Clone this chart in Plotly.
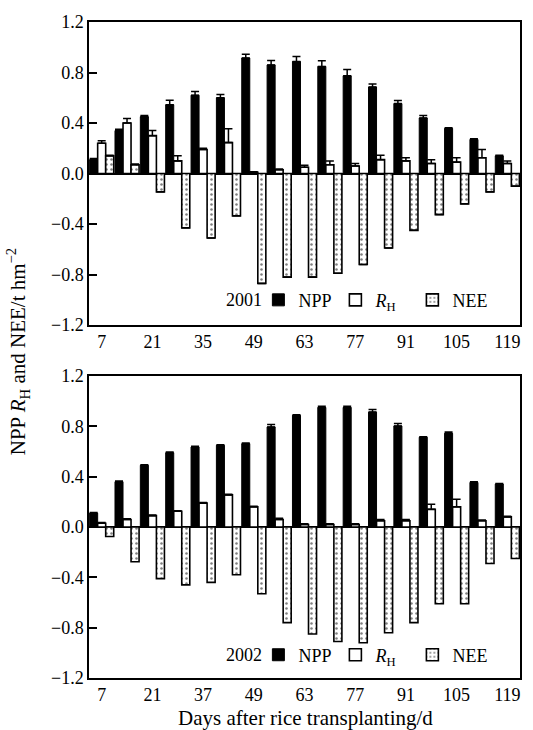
import plotly.graph_objects as go

days = [7, 14, 21, 28, 35, 42, 49, 56, 63, 70, 77, 84, 91, 98, 105, 112, 119]
tick_vals = [7, 21, 35, 49, 63, 77, 91, 105, 119]
tick_text_2001 = ["7", "21", "35", "49", "63", "77", "91", "105", "119"]
tick_text_2002 = ["7", "21", "37", "49", "63", "77", "91", "105", "119"]

# 2001
npp_2001 = [0.11, 0.34, 0.45, 0.545, 0.62, 0.60, 0.915, 0.86, 0.887, 0.848, 0.774, 0.685, 0.554, 0.44, 0.357, 0.27, 0.14]
npp_err_2001 = [0.01, 0.01, 0.01, 0.035, 0.03, 0.025, 0.03, 0.035, 0.04, 0.045, 0.05, 0.025, 0.025, 0.02, 0.005, 0.005, 0.005]
rh_2001 = [0.24, 0.40, 0.30, 0.10, 0.19, 0.245, 0.01, 0.03, 0.05, 0.07, 0.06, 0.11, 0.10, 0.08, 0.09, 0.125, 0.08]
rh_err_2001 = [0.02, 0.035, 0.04, 0.04, 0.01, 0.11, 0.005, 0.005, 0.015, 0.03, 0.02, 0.035, 0.025, 0.03, 0.035, 0.065, 0.02]
nee_2001 = [0.14, 0.07, -0.145, -0.43, -0.51, -0.335, -0.87, -0.82, -0.82, -0.79, -0.72, -0.59, -0.45, -0.325, -0.24, -0.145, -0.10]
nee_err_2001 = [0.005, 0.005, 0, 0, 0, 0, 0, 0, 0, 0, 0, 0, 0, 0, 0, 0, 0]

# 2002
npp_2002 = [0.11, 0.36, 0.49, 0.59, 0.636, 0.649, 0.662, 0.795, 0.887, 0.95, 0.95, 0.913, 0.803, 0.713, 0.744, 0.354, 0.341]
npp_err_2002 = [0.005, 0.005, 0.005, 0.005, 0.005, 0.005, 0.005, 0.02, 0.005, 0.01, 0.01, 0.02, 0.02, 0.005, 0.01, 0.005, 0.005]
rh_2002 = [0.03, 0.06, 0.09, 0.125, 0.19, 0.255, 0.16, 0.06, 0.02, 0.02, 0.02, 0.05, 0.05, 0.14, 0.16, 0.05, 0.08]
rh_err_2002 = [0.005, 0.005, 0.005, 0.005, 0.005, 0.005, 0.005, 0.01, 0.005, 0.005, 0.005, 0.01, 0.01, 0.04, 0.06, 0.005, 0.005]
nee_2002 = [-0.075, -0.276, -0.41, -0.46, -0.44, -0.38, -0.53, -0.76, -0.85, -0.91, -0.92, -0.84, -0.76, -0.61, -0.61, -0.29, -0.25]

y_ticks = [-1.2, -0.8, -0.4, 0.0, 0.4, 0.8, 1.2]
FONT = "Liberation Serif"

fig = go.Figure()

def err(vals):
    return dict(type="data", symmetric=False, array=vals, arrayminus=[0] * len(vals),
                color="black", thickness=1.5, width=4)

def add_set(npp, npp_e, rh, rh_e, nee, nee_e, xa, ya, leg):
    fig.add_trace(go.Bar(x=days, y=npp, name="NPP", marker=dict(color="black", line=dict(color="black", width=1)),
                         error_y=err(npp_e), xaxis=xa, yaxis=ya, legend=leg))
    fig.add_trace(go.Bar(x=days, y=rh, name="<i>R</i><sub>H</sub>",
                         marker=dict(color="white", line=dict(color="black", width=1.6)),
                         error_y=err(rh_e), xaxis=xa, yaxis=ya, legend=leg))
    fig.add_trace(go.Bar(x=days, y=nee, name="NEE",
                         marker=dict(color="white", line=dict(color="black", width=1.6),
                                     pattern=dict(shape=".", fgcolor="black", bgcolor="white", size=5, solidity=0.2)),
                         error_y=err(nee_e) if nee_e is not None else None, xaxis=xa, yaxis=ya, legend=leg))

add_set(npp_2001, npp_err_2001, rh_2001, rh_err_2001, nee_2001, nee_err_2001, "x", "y", "legend")
add_set(npp_2002, npp_err_2002, rh_2002, rh_err_2002, nee_2002, None, "x2", "y2", "legend2")

axis_common = dict(showline=True, linecolor="black", linewidth=1.5, mirror=True,
                   showgrid=False, tickfont=dict(family=FONT, size=18, color="black"))
xcommon = dict(axis_common, range=[3.5, 122.5], tickvals=tick_vals, ticks="", ticklen=0, zeroline=False)
ycommon = dict(axis_common, range=[-1.2, 1.2], tickvals=y_ticks, tickformat=".1f", ticks="inside",
               ticklen=8, tickwidth=1.5, tickcolor="black", zeroline=True, zerolinecolor="black", zerolinewidth=1.5)

legend_common = dict(orientation="h", bgcolor="rgba(0,0,0,0)", font=dict(family=FONT, size=18, color="black"),
                     itemwidth=30, entrywidth=32, entrywidthmode="pixels",
                     xanchor="left", yanchor="middle", traceorder="normal", itemclick=False)

fig.update_layout(
    width=533, height=730,
    margin=dict(l=89, r=11, t=22, b=52),
    paper_bgcolor="white", plot_bgcolor="white",
    barmode="group", bargap=0.05, bargroupgap=0,
    font=dict(family=FONT, size=18, color="black"),
    xaxis=dict(xcommon, domain=[0, 1], anchor="y", ticktext=tick_text_2001),
    yaxis=dict(ycommon, domain=[0.538, 1.0], anchor="x"),
    xaxis2=dict(xcommon, domain=[0, 1], anchor="y2", ticktext=tick_text_2002),
    yaxis2=dict(ycommon, domain=[0.0, 0.4604], anchor="x2"),
    legend=dict(legend_common, x=0.393, y=0.576),
    legend2=dict(legend_common, x=0.393, y=0.035),
    annotations=[
        dict(text="2001", xref="paper", yref="paper", x=0.314, y=0.576, showarrow=False,
             xanchor="left", yanchor="middle", font=dict(family=FONT, size=18, color="black")),
        dict(text="2002", xref="paper", yref="paper", x=0.314, y=0.035, showarrow=False,
             xanchor="left", yanchor="middle", font=dict(family=FONT, size=18, color="black")),
        dict(text="NPP <i>R</i><sub>H</sub> and NEE/t hm<sup>−2</sup>", xref="paper", yref="paper",
             x=-0.164, y=0.497, textangle=-90, showarrow=False, xanchor="center", yanchor="middle",
             font=dict(family=FONT, size=21, color="black")),
        dict(text="Days after rice transplanting/d", xref="paper", yref="paper",
             x=0.503, y=-0.061, showarrow=False, xanchor="center", yanchor="middle",
             font=dict(family=FONT, size=21, color="black")),
    ],
)

fig.write_html("out.html", config={"displayModeBar": False},
               post_script="document.body.style.margin='0px';")
